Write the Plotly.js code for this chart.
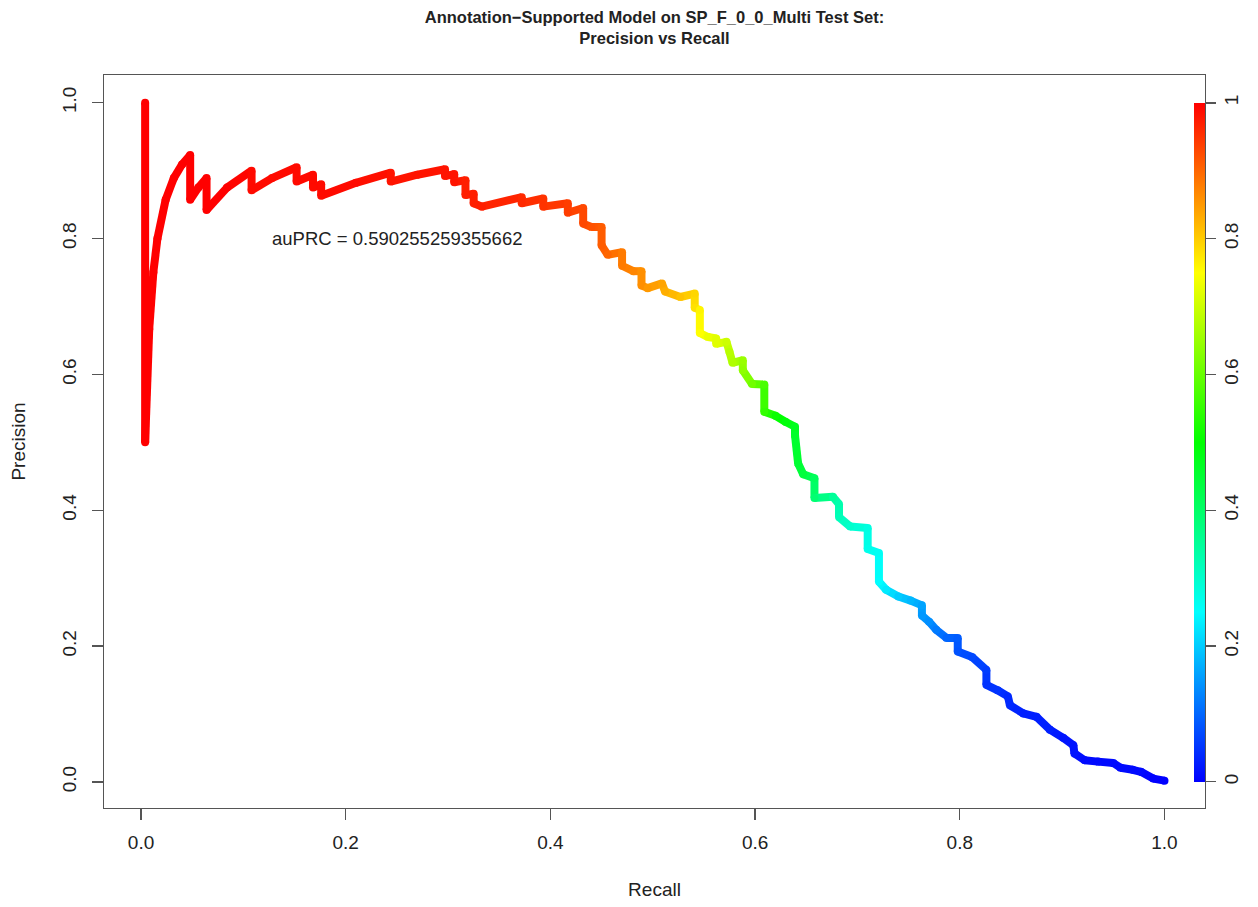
<!DOCTYPE html>
<html>
<head>
<meta charset="utf-8">
<script src="https://cdn.plot.ly/plotly-3.0.1.min.js"></script>
<style>html,body{margin:0;padding:0;background:#fff;}#chart{width:1258px;height:907px;}</style>
</head>
<body>
<div id="chart"></div>
<script>
// Precision-recall curve points
const recall = [0.004,0.004,0.008,0.012,0.016,0.024,0.032,0.040,0.048,0.048,0.056,0.064,0.064,0.084,0.108,0.108,0.128,0.152,0.152,0.168,0.168,0.176,0.176,0.210,0.244,0.244,0.270,0.297,0.297,0.306,0.306,0.317,0.317,0.325,0.325,0.333,0.372,0.372,0.393,0.393,0.417,0.417,0.432,0.432,0.440,0.450,0.450,0.456,0.470,0.470,0.481,0.489,0.489,0.495,0.509,0.512,0.527,0.541,0.541,0.546,0.546,0.554,0.562,0.562,0.572,0.575,0.578,0.588,0.588,0.597,0.609,0.609,0.620,0.630,0.639,0.639,0.642,0.647,0.658,0.658,0.676,0.682,0.682,0.693,0.710,0.710,0.721,0.721,0.728,0.740,0.752,0.763,0.763,0.770,0.777,0.787,0.798,0.798,0.812,0.826,0.826,0.837,0.847,0.849,0.862,0.875,0.888,0.901,0.911,0.912,0.922,0.935,0.950,0.957,0.969,0.977,0.989,1.000];
const precision = [1.000,0.500,0.667,0.750,0.800,0.857,0.889,0.909,0.923,0.857,0.875,0.889,0.842,0.875,0.900,0.871,0.889,0.905,0.884,0.894,0.875,0.880,0.863,0.882,0.897,0.884,0.894,0.902,0.892,0.895,0.883,0.886,0.864,0.866,0.852,0.847,0.861,0.852,0.859,0.847,0.852,0.838,0.845,0.822,0.817,0.817,0.790,0.776,0.780,0.760,0.752,0.752,0.731,0.727,0.734,0.722,0.714,0.719,0.698,0.695,0.661,0.655,0.653,0.645,0.648,0.633,0.617,0.621,0.606,0.586,0.585,0.545,0.539,0.530,0.523,0.510,0.469,0.453,0.447,0.418,0.420,0.409,0.390,0.376,0.374,0.343,0.337,0.295,0.283,0.273,0.267,0.260,0.245,0.236,0.224,0.212,0.212,0.192,0.184,0.165,0.143,0.135,0.126,0.113,0.101,0.096,0.077,0.065,0.054,0.042,0.032,0.030,0.028,0.021,0.018,0.015,0.005,0.002];
// Classification threshold (colour) at each point
const threshold = [1.00,1.00,1.00,1.00,1.00,1.00,1.00,1.00,1.00,1.00,1.00,1.00,1.00,1.00,0.99,0.99,0.99,0.99,0.99,0.99,0.99,0.99,0.99,0.99,0.98,0.98,0.98,0.98,0.98,0.98,0.98,0.97,0.97,0.97,0.97,0.97,0.96,0.96,0.95,0.95,0.94,0.94,0.93,0.93,0.92,0.91,0.91,0.90,0.88,0.88,0.87,0.86,0.86,0.85,0.84,0.83,0.81,0.79,0.78,0.76,0.75,0.73,0.72,0.72,0.70,0.68,0.67,0.65,0.64,0.61,0.57,0.55,0.51,0.49,0.47,0.46,0.45,0.44,0.41,0.39,0.35,0.33,0.32,0.30,0.28,0.27,0.26,0.25,0.23,0.20,0.18,0.16,0.15,0.14,0.12,0.10,0.09,0.08,0.07,0.06,0.05,0.05,0.04,0.04,0.03,0.03,0.03,0.02,0.02,0.02,0.01,0.01,0.01,0.01,0.01,0.01,0.00,0.00];
const xTicks = [0, 0.2, 0.4, 0.6, 0.8, 1.0];
const xTickLabels = ["0.0","0.2","0.4","0.6","0.8","1.0"];
const yTicks = [0, 0.2, 0.4, 0.6, 0.8, 1.0];
const yTickLabels = ["0.0","0.2","0.4","0.6","0.8","1.0"];
const cbTicks = [0, 0.2, 0.4, 0.6, 0.8, 1];
const cbTickLabels = ["0","0.2","0.4","0.6","0.8","1"];
const auprcText = "auPRC = 0.590255259355662";

const rainbow = [
  [0.000,[0,0,255]],[0.125,[0,128,255]],[0.250,[0,255,255]],[0.375,[0,255,128]],
  [0.500,[0,255,0]],[0.625,[128,255,0]],[0.750,[255,255,0]],[0.875,[255,128,0]],[1.000,[255,0,0]]
];
const colorscale = rainbow.map(s => [s[0], 'rgb(' + s[1].join(',') + ')']);
function colorAt(v){
  v = Math.max(0, Math.min(1, v));
  for (let i = 0; i < rainbow.length - 1; i++){
    const a = rainbow[i], b = rainbow[i+1];
    if (v >= a[0] && v <= b[0]){
      const f = (v - a[0]) / (b[0] - a[0]);
      const c = a[1].map((ch, k) => Math.round(ch + f * (b[1][k] - ch)));
      return 'rgb(' + c.join(',') + ')';
    }
  }
  return 'rgb(255,0,0)';
}

const FONT = '"Liberation Sans", Arial, Helvetica, sans-serif';
const traces = [];
for (let i = 0; i < recall.length - 1; i++){
  traces.push({
    type: 'scatter', mode: 'lines',
    x: [recall[i], recall[i+1]], y: [precision[i], precision[i+1]],
    line: {color: colorAt((threshold[i] + threshold[i+1]) / 2), width: 8},
    hoverinfo: 'skip', showlegend: false
  });
}
traces.push({
  type: 'scatter', mode: 'markers', x: recall, y: precision,
  marker: {
    size: 8, color: threshold, cmin: 0, cmax: 1, colorscale: colorscale,
    line: {width: 0}, showscale: true,
    colorbar: {
      x: 1 - 11/1101, xanchor: 'left', xpad: 0, ypad: 0,
      y: (808 - 442.35) / 733, yanchor: 'middle',
      thickness: 11, thicknessmode: 'pixels',
      len: 679.3, lenmode: 'pixels',
      outlinewidth: 0,
      ticks: 'outside', ticklen: 11, tickwidth: 1.3, tickcolor: '#555',
      ticklabelstandoff: 7,
      tickvals: cbTicks, ticktext: cbTickLabels, tickangle: -90,
      tickfont: {family: FONT, size: 19, color: '#222'}
    }
  },
  hoverinfo: 'skip', showlegend: false
});

const axisCommon = {
  showgrid: false, zeroline: false, showline: true, mirror: true,
  linecolor: '#555', linewidth: 1.3,
  ticks: 'outside', ticklen: 11, tickwidth: 1.3, tickcolor: '#555',
  tickfont: {family: FONT, size: 19, color: '#222'}
};

const layout = {
  width: 1258, height: 907,
  paper_bgcolor: '#fff', plot_bgcolor: '#fff',
  margin: {l: 104, r: 53, t: 75, b: 99},
  title: {
    text: '<b>Annotation\u2212Supported Model on SP_F_0_0_Multi Test Set:<br>Precision vs Recall</b>',
    font: {family: FONT, size: 16.5, color: '#222'},
    x: 0.5, xref: 'paper', y: 1 - 23/907, yref: 'container', yanchor: 'top'
  },
  xaxis: Object.assign({}, axisCommon, {
    range: [-0.0362, 1.0396], tickvals: xTicks, ticktext: xTickLabels,
    ticklabelstandoff: 6,
    title: {text: 'Recall', font: {family: FONT, size: 19, color: '#222'}, standoff: 30}
  }),
  yaxis: Object.assign({}, axisCommon, {
    range: [-0.0383, 1.0408], tickvals: yTicks, ticktext: yTickLabels, tickangle: -90,
    ticklabelstandoff: 8,
    title: {text: 'Precision', font: {family: FONT, size: 19, color: '#222'}, standoff: 28}
  }),
  annotations: [{
    x: 0.25, y: 0.8, xref: 'x', yref: 'y', text: auprcText, showarrow: false,
    font: {family: FONT, size: 18.5, color: '#222'}, xanchor: 'center', yanchor: 'middle'
  }]
};

Plotly.newPlot('chart', traces, layout, {displayModeBar: false, staticPlot: true});
</script>
</body>
</html>
